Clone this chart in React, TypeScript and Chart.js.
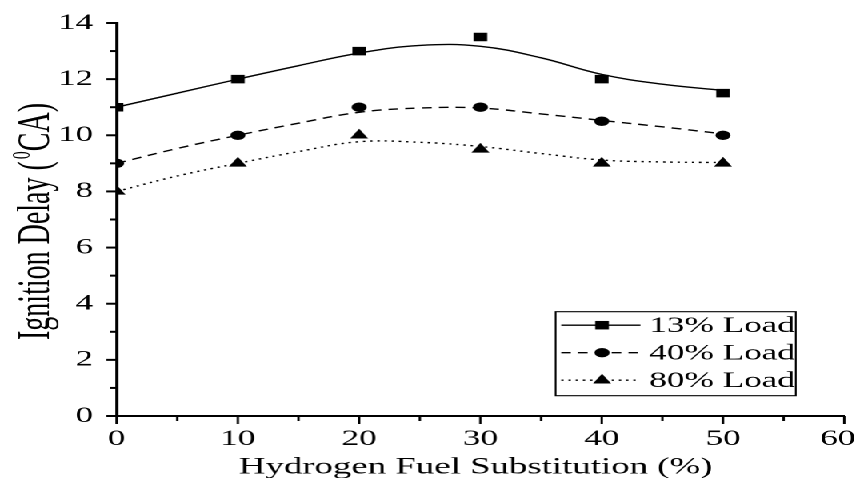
import { useEffect, useRef } from 'react';
import { Chart, registerables } from 'chart.js';

Chart.register(...registerables);

// ---- data ----
const xValues = [0, 10, 20, 30, 40, 50];
const load13 = [11, 12, 13, 13.5, 12, 11.5];
const load40 = [9, 10, 11, 11, 10.5, 10];
const load80 = [8, 9, 10, 9.5, 9, 9];
const seriesLabels = ['13% Load', '40% Load', '80% Load'];

// smooth fitted curves
const fitX = [0, 5, 10, 15, 20, 25, 30, 35, 40, 45, 50];
const fit13 = [11.0, 11.5, 12.0, 12.48, 12.93, 13.2, 13.17, 12.76, 12.17, 11.82, 11.6];
const fit40 = [9.0, 9.53, 10.0, 10.43, 10.82, 10.97, 10.97, 10.76, 10.53, 10.3, 10.05];
const fit80 = [8.0, 8.55, 9.0, 9.42, 9.77, 9.75, 9.6, 9.35, 9.12, 9.05, 9.03];

const xTicks = [0, 10, 20, 30, 40, 50, 60];
const yTicks = [0, 2, 4, 6, 8, 10, 12, 14];
const xMinorStep = 5;
const yMinorStep = 1;
const xTitle = 'Hydrogen Fuel Substitution (%)';
const yTitleMain = 'Ignition Delay (';
const yTitleSup = '0';
const yTitleEnd = 'CA)';

// ---- look ----
const STRETCH = 1.6; // the reference is stretched horizontally
const FULL_W = 857;
const FULL_H = 478;
const LOGICAL_W = FULL_W / STRETCH;
const FONT = '"Liberation Serif", "Times New Roman", serif';
const TICK_FONT = `22px ${FONT}`;

const styles = [
  { pointStyle: 'rect', radius: 6, dash: [] as number[] },
  { pointStyle: 'circle', radius: 4.7, dash: [6, 4.5] },
  { pointStyle: 'triangle', radius: 6.5, dash: [1.5, 3] },
];
const seriesValues = [load13, load40, load80];
const seriesFits = [fit13, fit40, fit80];

function drawMarker(ctx: CanvasRenderingContext2D, style: string, r: number, x: number, y: number) {
  ctx.beginPath();
  if (style === 'rect') {
    const s = r * Math.SQRT1_2;
    ctx.rect(x - s, y - s, 2 * s, 2 * s);
  } else if (style === 'circle') {
    ctx.arc(x, y, r, 0, Math.PI * 2);
  } else {
    ctx.moveTo(x, y - r);
    ctx.lineTo(x + r * 0.866, y + r / 2);
    ctx.lineTo(x - r * 0.866, y + r / 2);
    ctx.closePath();
  }
  ctx.fill();
}

const decorPlugin = {
  id: 'decor',
  afterDraw(chart: any) {
    const { ctx, chartArea, scales } = chart;
    const xs = scales.x;
    const ys = scales.y;
    ctx.save();
    ctx.strokeStyle = '#000';
    ctx.fillStyle = '#000';

    // x ticks (major + minor)
    ctx.lineWidth = 1.5;
    for (let v = xs.min; v <= xs.max + 1e-9; v += xMinorStep) {
      const px = xs.getPixelForValue(v);
      const major = xTicks.includes(v);
      ctx.beginPath();
      ctx.moveTo(px, chartArea.bottom);
      ctx.lineTo(px, chartArea.bottom + (major ? 8 : 5));
      ctx.stroke();
    }
    // x tick labels (kept inside the canvas)
    ctx.font = TICK_FONT;
    ctx.textAlign = 'center';
    ctx.textBaseline = 'middle';
    xs.ticks.forEach((t: any) => {
      const label = String(t.label);
      const w = ctx.measureText(label).width;
      const px = Math.min(xs.getPixelForValue(t.value), chart.width - w / 2 - 1.5);
      ctx.fillText(label, px, chartArea.bottom + 23.1);
    });

    // y ticks (major + minor)
    ctx.lineWidth = 2;
    for (let v = ys.min; v <= ys.max + 1e-9; v += yMinorStep) {
      const py = ys.getPixelForValue(v);
      const major = yTicks.includes(v);
      ctx.beginPath();
      ctx.moveTo(chartArea.left, py);
      ctx.lineTo(chartArea.left - (major ? 6.3 : 4.3), py);
      ctx.stroke();
    }

    // x title
    ctx.font = `23px ${FONT}`;
    ctx.textAlign = 'center';
    ctx.textBaseline = 'alphabetic';
    ctx.fillText(xTitle, (chartArea.left + chartArea.right) / 2 - 3, 473.3);

    // y title with superscript
    const mainFont = `28px ${FONT}`;
    const supFont = `16px ${FONT}`;
    ctx.font = mainFont;
    const w1 = ctx.measureText(yTitleMain).width;
    const w3 = ctx.measureText(yTitleEnd).width;
    ctx.font = supFont;
    const w2 = ctx.measureText(yTitleSup).width;
    const gap = 2;
    const total = w1 + gap + w2 + w3;
    ctx.translate(30.5, (chartArea.top + chartArea.bottom) / 2 + 2);
    ctx.rotate(-Math.PI / 2);
    ctx.textAlign = 'left';
    let x0 = -total / 2;
    ctx.font = mainFont;
    ctx.fillText(yTitleMain, x0, 0);
    x0 += w1 + gap;
    ctx.font = supFont;
    ctx.fillText(yTitleSup, x0, -12);
    x0 += w2;
    ctx.font = mainFont;
    ctx.fillText(yTitleEnd, x0, 0);
    ctx.restore();

    // legend
    ctx.save();
    const bx = 346.9;
    const by = 311.7;
    const bw = 150;
    const bh = 84;
    ctx.fillStyle = '#fff';
    ctx.fillRect(bx, by, bw, bh);
    ctx.strokeStyle = '#000';
    ctx.lineWidth = 1.1;
    ctx.strokeRect(bx, by, bw, bh);
    ctx.font = `22px ${FONT}`;
    ctx.textAlign = 'left';
    ctx.textBaseline = 'middle';
    seriesLabels.forEach((label, i) => {
      const st = styles[i];
      const cy = by + 13.5 + i * 27.5;
      ctx.strokeStyle = '#000';
      ctx.lineWidth = 1.4;
      ctx.setLineDash(st.dash);
      ctx.beginPath();
      ctx.moveTo(bx + 3.5, cy);
      ctx.lineTo(bx + 53, cy);
      ctx.stroke();
      ctx.setLineDash([]);
      ctx.fillStyle = '#000';
      drawMarker(ctx, st.pointStyle, st.radius, bx + 29, cy);
      ctx.fillText(label, bx + 58.5, cy + 1);
    });
    ctx.restore();
  },
};

export default function App() {
  const ref = useRef<HTMLCanvasElement>(null);

  useEffect(() => {
    const canvas = ref.current;
    if (!canvas) return;
    const datasets: any[] = [];
    seriesLabels.forEach((label, i) => {
      datasets.push({
        label,
        data: xValues.map((x, j) => ({ x, y: seriesValues[i][j] })),
        showLine: false,
        pointStyle: styles[i].pointStyle,
        pointRadius: styles[i].radius,
        pointBackgroundColor: '#000',
        pointBorderColor: '#000',
        pointBorderWidth: 0,
        clip: 0,
        order: 0,
      });
    });
    seriesLabels.forEach((label, i) => {
      datasets.push({
        label: label + ' fit',
        data: fitX.map((x, j) => ({ x, y: seriesFits[i][j] })),
        showLine: true,
        borderColor: '#000',
        borderWidth: 1.4,
        borderDash: styles[i].dash,
        tension: 0.4,
        pointRadius: 0,
        fill: false,
        order: 1,
      });
    });

    const chart = new Chart(canvas, {
      type: 'scatter',
      data: { datasets },
      options: {
        animation: false,
        responsive: true,
        maintainAspectRatio: false,
        devicePixelRatio: 2,
        events: [],
        layout: { padding: { left: 0, top: 23, right: LOGICAL_W - 527.2, bottom: 0 } },
        plugins: { legend: { display: false }, tooltip: { enabled: false }, title: { display: false } },
        scales: {
          x: {
            type: 'linear',
            min: xTicks[0],
            max: xTicks[xTicks.length - 1],
            ticks: {
              display: false,
              stepSize: xTicks[1] - xTicks[0],
              color: '#000',
              font: { family: FONT, size: 22 },
              maxRotation: 0,
            },
            grid: { display: false, drawTicks: false },
            border: { display: true, color: '#000', width: 2 },
            afterFit: (scale: any) => {
              scale.height = FULL_H - 416;
              scale.paddingLeft = 0;
              scale.paddingRight = 0;
            },
          },
          y: {
            type: 'linear',
            min: yTicks[0],
            max: yTicks[yTicks.length - 1],
            ticks: {
              stepSize: yTicks[1] - yTicks[0],
              color: '#000',
              font: { family: FONT, size: 22 },
              padding: 14.7,
            },
            grid: { display: false, drawTicks: false },
            border: { display: true, color: '#000', width: 2 },
            afterFit: (scale: any) => {
              scale.width = 72.8;
              scale.paddingTop = 0;
              scale.paddingBottom = 0;
            },
          },
        },
      } as any,
      plugins: [decorPlugin],
    });
    return () => chart.destroy();
  }, []);

  return (
    <div
      style={{
        position: 'absolute',
        left: 0,
        top: 0,
        width: LOGICAL_W,
        height: FULL_H,
        transform: `scaleX(${STRETCH})`,
        transformOrigin: '0 0',
        background: '#fff',
      }}
    >
      <canvas ref={ref} />
    </div>
  );
}
